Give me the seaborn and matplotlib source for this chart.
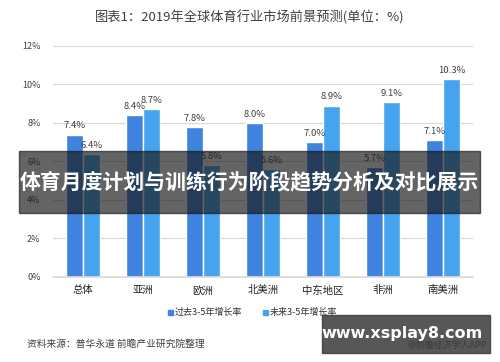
import pandas as pd
import seaborn as sns
import matplotlib.pyplot as plt
from matplotlib.patches import Rectangle

# Data
regions = ['总体', '亚洲', '欧洲', '北美洲', '中东地区', '非洲', '南美洲']
past_growth = [7.4, 8.4, 7.8, 8.0, 7.0, 5.7, 7.1]
future_growth = [6.4, 8.7, 5.8, 5.6, 8.9, 9.1, 10.3]
series_names = ['过去3-5年增长率', '未来3-5年增长率']
y_ticks = [0, 2, 4, 6, 8, 10, 12]

df = pd.DataFrame({
    'region': regions * 2,
    'value': past_growth + future_growth,
    'series': [series_names[0]] * len(regions) + [series_names[1]] * len(regions),
})

sns.set_theme(style='white')
plt.rcParams['font.family'] = ['Noto Sans CJK SC', 'DejaVu Sans']

fig = plt.figure(figsize=(5, 3.62), dpi=100)
ax = fig.add_axes([0.106, 0.235, 0.84, 0.638])

palette = {series_names[0]: '#3f83e0', series_names[1]: '#45a3f0'}
sns.barplot(data=df, x='region', y='value', hue='series', palette=palette,
            width=0.57, ax=ax, legend=False, saturation=1)

# value labels
for cont in ax.containers:
    ax.bar_label(cont, labels=[f'{v:.1f}%' for v in cont.datavalues],
                 fontsize=6.8, color='#404040', padding=3)

ax.set_ylim(0, 12)
ax.set_xlim(-0.5, len(regions) - 0.5)
ax.set_yticks(y_ticks)
ax.set_yticklabels([f'{t}%' for t in y_ticks], fontsize=6.5, color='#404040')
ax.tick_params(axis='x', labelsize=7.5, colors='#202020', length=0, pad=6)
ax.tick_params(axis='y', length=0, pad=9)
ax.yaxis.grid(True, color='#d9d9d9', linewidth=0.8)
ax.set_axisbelow(True)
for s in ['top', 'right', 'left']:
    ax.spines[s].set_visible(False)
ax.spines['bottom'].set_color('#d9d9d9')
ax.set_xlabel('')
ax.set_ylabel('')

fig.text(0.5, 0.953, '图表1：2019年全球体育行业市场前景预测(单位：%)',
         ha='center', va='center', fontsize=9.5, color='#404040')

# legend
for x, name in [(0.335, series_names[0]), (0.525, series_names[1])]:
    fig.patches.append(Rectangle((x, 0.129), 0.011, 0.015, transform=fig.transFigure,
                                 color=palette[name]))
    fig.text(x + 0.015, 0.137, name, fontsize=6.5, va='center', color='#303030')

fig.text(0.054, 0.05, '资料来源：普华永道 前瞻产业研究院整理', fontsize=7,
         va='center', color='#404040')
fig.text(0.975, 0.045, '@前瞻经济学人APP', fontsize=6.5, ha='right',
         va='center', color='#404040')

# overlay banner
fig.patches.append(Rectangle((0.038, 0.412), 0.922, 0.172, transform=fig.transFigure,
                             color='#1a1a1a', alpha=0.68, zorder=5))
fig.text(0.498, 0.497, '体育月度计划与训练行为阶段趋势分析及对比展示', ha='center',
         va='center', fontsize=15, fontweight='bold', color='white', zorder=6)

# bottom-right box
fig.patches.append(Rectangle((0.644, 0.025), 0.336, 0.105, transform=fig.transFigure,
                             color='#3a3a3a', alpha=0.85, zorder=5))
fig.text(0.805, 0.078, 'www.xsplay8.com', ha='center', va='center', fontsize=11.5,
         fontweight='bold', color='white', zorder=6, family='DejaVu Sans')

fig.savefig('out.png', dpi=100)
